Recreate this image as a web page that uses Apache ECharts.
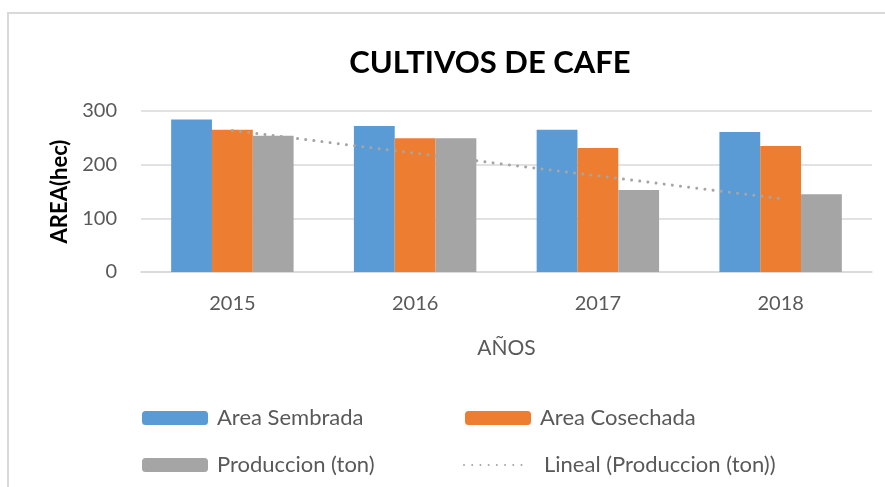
<!DOCTYPE html>
<html>
<head>
<meta charset="utf-8">
<script src="https://cdn.jsdelivr.net/npm/echarts@6/dist/echarts.min.js"></script>
<style>
  html, body { margin: 0; padding: 0; background: #ffffff; }
  #chart { width: 885px; height: 487px; }
</style>
</head>
<body>
<div id="chart"></div>
<script>
// Coffee crop figures per year
const years = ['2015', '2016', '2017', '2018'];
const areaSembrada = [284, 272, 265, 261];
const areaCosechada = [265, 249, 231, 235];
const produccion = [254, 249, 153, 145];
const yTicks = [0, 100, 200, 300];

// Least-squares linear trend of production (x = 1..n, like a spreadsheet trendline)
function linearTrend(values) {
  const n = values.length;
  let sx = 0, sy = 0, sxx = 0, sxy = 0;
  values.forEach((v, i) => {
    const x = i + 1;
    sx += x; sy += v; sxx += x * x; sxy += x * v;
  });
  const slope = (n * sxy - sx * sy) / (n * sxx - sx * sx);
  const intercept = (sy - slope * sx) / n;
  return values.map((_, i) => +(intercept + slope * (i + 1)).toFixed(2));
}
const tendencia = linearTrend(produccion);

const FONT = 'Lato, "Open Sans", sans-serif';
const GRAY_TEXT = '#595959';
const GRID = '#d9d9d9';

const chart = echarts.init(document.getElementById('chart'), null, { renderer: 'canvas' });

function legendItem(name, left, top, extra) {
  return Object.assign({
    data: [name],
    left: left,
    top: top,
    padding: 0,
    itemWidth: 66,
    itemHeight: 14,
    selectedMode: false,
    textStyle: { fontFamily: FONT, fontSize: 22, color: GRAY_TEXT, padding: [0, 0, 0, 4] }
  }, extra || {});
}

chart.setOption({
  animation: false,
  backgroundColor: '#ffffff',
  graphic: [
    {
      type: 'rect',
      shape: { x: 8, y: 13, width: 920, height: 520 },
      style: { fill: 'none', stroke: GRID, lineWidth: 2 },
      silent: true
    },
    {
      type: 'text',
      x: 490,
      y: 63,
      style: {
        text: 'CULTIVOS DE CAFE',
        fill: '#000000',
        font: 'bold 31px ' + FONT,
        textAlign: 'center',
        textVerticalAlign: 'middle'
      }
    }
  ],
  legend: [
    legendItem('Area Sembrada', 142, 407),
    legendItem('Area Cosechada', 465, 407),
    legendItem('Produccion (ton)', 142, 454),
    legendItem('Lineal (Produccion (ton))', 463, 454, {
      itemWidth: 62,
      itemStyle: { opacity: 0 },
      textStyle: { fontFamily: FONT, fontSize: 22, color: GRAY_TEXT, padding: [0, 0, 0, 13] }
    })
  ],
  grid: { left: 141, right: 13, top: 111, bottom: 215, containLabel: false },
  xAxis: {
    type: 'category',
    data: years,
    name: 'AÑOS',
    nameLocation: 'middle',
    nameGap: 66,
    nameTextStyle: { fontFamily: FONT, fontSize: 21, color: GRAY_TEXT },
    axisLine: { lineStyle: { color: GRID, width: 1.5 } },
    axisTick: { show: false },
    axisLabel: { fontFamily: FONT, fontSize: 20, color: GRAY_TEXT, margin: 22 }
  },
  yAxis: {
    type: 'value',
    min: yTicks[0],
    max: yTicks[yTicks.length - 1],
    interval: 100,
    name: 'AREA(hec)',
    nameLocation: 'middle',
    nameRotate: 90,
    nameGap: 69,
    nameTextStyle: { fontFamily: FONT, fontSize: 22, fontWeight: 'bold', color: '#000000' },
    axisLine: { show: false },
    axisTick: { show: false },
    axisLabel: { fontFamily: FONT, fontSize: 20, color: GRAY_TEXT, margin: 24 },
    splitLine: { lineStyle: { color: GRID, width: 1.5 } }
  },
  series: [
    {
      name: 'Area Sembrada',
      type: 'bar',
      data: areaSembrada,
      barGap: '0%',
      barCategoryGap: '33%',
      itemStyle: { color: '#5b9bd5' }
    },
    {
      name: 'Area Cosechada',
      type: 'bar',
      data: areaCosechada,
      itemStyle: { color: '#ed7d31' }
    },
    {
      name: 'Produccion (ton)',
      type: 'bar',
      data: produccion,
      itemStyle: { color: '#a5a5a5' }
    },
    {
      name: 'Lineal (Produccion (ton))',
      type: 'line',
      data: tendencia,
      symbol: 'none',
      z: 5,
      itemStyle: { color: '#a5a5a5' },
      lineStyle: { color: '#a5a5a5', width: 3, type: [0.01, 8.2], cap: 'round' }
    }
  ]
});
</script>
</body>
</html>
